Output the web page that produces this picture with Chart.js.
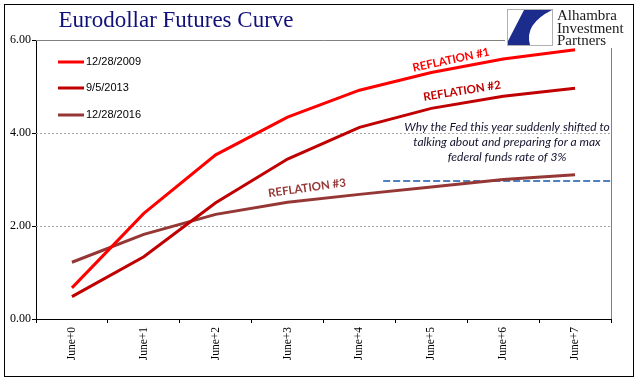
<!DOCTYPE html>
<html>
<head>
<meta charset="utf-8">
<script src="https://cdn.jsdelivr.net/npm/chart.js@4"></script>
<style>
html,body{margin:0;padding:0;background:#fff;}
#wrap{position:relative;width:641px;height:381px;}
canvas{display:block;}
</style>
</head>
<body>
<div id="wrap"><canvas id="c" width="641" height="381"></canvas></div>
<script>
const categories = ['June+0','June+1','June+2','June+3','June+4','June+5','June+6','June+7'];
const seriesNames = ['12/28/2009','9/5/2013','12/28/2016'];
const series2009 = [0.67, 2.27, 3.53, 4.34, 4.92, 5.30, 5.59, 5.79];
const series2013 = [0.48, 1.34, 2.50, 3.44, 4.12, 4.53, 4.79, 4.96];
const series2016 = [1.22, 1.82, 2.25, 2.51, 2.68, 2.84, 3.00, 3.10];
const seriesColors = ['#FF0000','#C00000','#953735'];
const yTicks = [0, 2, 4, 6];
const maxRateLevel = 2.97;
const maxRateStart = 4.33;
const maxRateEnd = 7.5;
const titleText = 'Eurodollar Futures Curve';
const noteLines = ['Why the Fed this year suddenly shifted to','talking about and preparing for a max','federal funds rate of 3%'];
const reflationLabels = ['REFLATION #1','REFLATION #2','REFLATION #3'];
const logoLines = ['Alhambra','Investment','Partners'];

const decor = {
  id:'decor',
  beforeDatasetsDraw(chart){
    const ctx = chart.ctx, a = chart.chartArea, y = chart.scales.y;
    ctx.save();
    ctx.strokeStyle = '#A6A6A6'; ctx.lineWidth = 1;
    ctx.setLineDash([2,2]);
    [2,4].forEach(v=>{
      const py = Math.round(y.getPixelForValue(v))+0.5;
      ctx.beginPath(); ctx.moveTo(a.left, py); ctx.lineTo(a.right, py); ctx.stroke();
    });
    ctx.setLineDash([]);
    ctx.strokeStyle = '#808080';
    const top = Math.round(y.getPixelForValue(6))+0.5;
    ctx.beginPath(); ctx.moveTo(a.left, top); ctx.lineTo(Math.round(a.right)+0.5, top);
    ctx.lineTo(Math.round(a.right)+0.5, a.bottom); ctx.stroke();
    ctx.restore();
  },
  afterDraw(chart){
    const ctx = chart.ctx;
    ctx.save();
    // title
    ctx.fillStyle = '#10107A';
    ctx.font = '23px "Liberation Serif", serif';
    ctx.textAlign = 'center'; ctx.textBaseline = 'alphabetic';
    ctx.fillText(titleText, 176, 27);
    // legend
    ctx.font = '11px "Liberation Sans", Arial, sans-serif';
    ctx.textAlign = 'left'; ctx.textBaseline = 'middle';
    const ly = [62, 88, 115];
    seriesNames.forEach((n,i)=>{
      ctx.strokeStyle = seriesColors[i]; ctx.lineWidth = 3;
      ctx.beginPath(); ctx.moveTo(58, ly[i]); ctx.lineTo(84, ly[i]); ctx.stroke();
      ctx.fillStyle = '#000'; ctx.fillText(n, 86, ly[i]);
    });
    // reflation labels
    const rl = [[451,60,-0.21],[462,91,-0.16],[307,188,-0.14]];
    ctx.font = 'bold 11.5px Lato, "Open Sans", sans-serif';
    ctx.textAlign = 'center';
    reflationLabels.forEach((t,i)=>{
      ctx.save(); ctx.translate(rl[i][0], rl[i][1]); ctx.rotate(rl[i][2]);
      ctx.fillStyle = seriesColors[i]; ctx.fillText(t, 0, 0); ctx.restore();
    });
    // note
    ctx.font = 'italic 12px Lato, "Open Sans", sans-serif';
    ctx.fillStyle = '#141430';
    noteLines.forEach((t,i)=>ctx.fillText(t, 507, 127 + i*15));
    // logo
    ctx.fillStyle = '#fff';
    ctx.fillRect(505, 6, 110, 42);
    ctx.strokeStyle = '#B0B0B0'; ctx.lineWidth = 1;
    ctx.strokeRect(507.5, 9.5, 45, 36);
    ctx.fillStyle = '#1C2C8C';
    ctx.beginPath();
    ctx.moveTo(524, 10); ctx.lineTo(552, 10);
    ctx.quadraticCurveTo(524, 24, 530, 45);
    ctx.lineTo(508, 45);
    ctx.lineTo(508, 41);
    ctx.closePath(); ctx.fill();
    ctx.fillStyle = '#1a1a1a';
    ctx.font = '15px "Liberation Serif", serif';
    ctx.textAlign = 'left'; ctx.textBaseline = 'alphabetic';
    logoLines.forEach((t,i)=>ctx.fillText(t, 557, 20 + i*12.5));
    // frame
    ctx.strokeStyle = '#000'; ctx.lineWidth = 1;
    ctx.strokeRect(4.5, 4.5, 629, 372);
    ctx.restore();
  }
};

new Chart(document.getElementById('c'), {
  type:'line',
  data:{
    labels: categories,
    datasets:[
      {label:seriesNames[0], data:series2009, borderColor:seriesColors[0], borderWidth:3, pointRadius:0, tension:0, order:1},
      {label:seriesNames[1], data:series2013, borderColor:seriesColors[1], borderWidth:3, pointRadius:0, tension:0, order:2},
      {label:seriesNames[2], data:series2016, borderColor:seriesColors[2], borderWidth:3, pointRadius:0, tension:0, order:3},
      {label:'max', data:[{x:maxRateStart,y:maxRateLevel},{x:maxRateEnd,y:maxRateLevel}], xAxisID:'x2', borderColor:'#4F81BD', borderWidth:2, borderDash:[7,3], pointRadius:0, order:4}
    ]
  },
  options:{
    responsive:false, animation:false,
    layout:{padding:{left:0, top:40, right:30, bottom:0}},
    plugins:{legend:{display:false}, tooltip:{enabled:false}, title:{display:false}},
    scales:{
      x:{
        type:'category', offset:true,
        grid:{display:true, offset:true, drawOnChartArea:false, drawTicks:true, tickLength:4, color:'#000'},
        border:{display:true, color:'#000', width:1},
        ticks:{minRotation:90, maxRotation:90, padding:4, color:'#000', font:{family:'"Liberation Serif", serif', size:11.5}},
        afterFit(s){ s.height = 62; }
      },
      x2:{type:'linear', display:false, min:-0.5, max:7.5},
      y:{
        min:0, max:6,
        afterBuildTicks(s){ s.ticks = yTicks.map(v=>({value:v})); },
        grid:{display:true, drawOnChartArea:false, drawTicks:true, tickLength:4, color:'#000'},
        border:{display:true, color:'#000', width:1},
        ticks:{padding:1, color:'#000', font:{family:'"Liberation Serif", serif', size:12}, callback:v=>Number(v).toFixed(2)},
        afterFit(s){ s.width = 36; }
      }
    }
  },
  plugins:[decor]
});
</script>
</body>
</html>
